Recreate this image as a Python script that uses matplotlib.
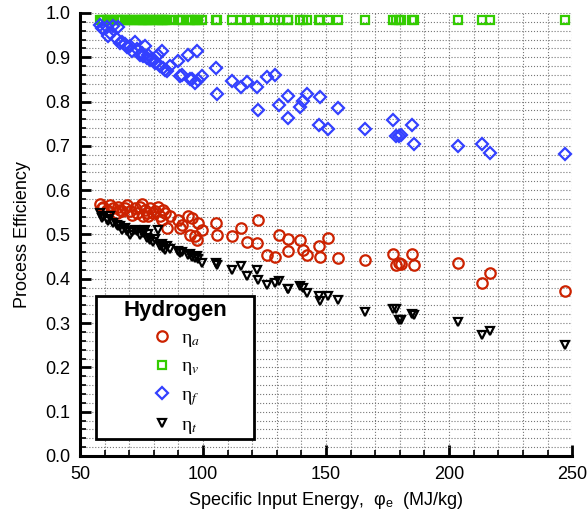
import matplotlib.pyplot as plt
from matplotlib.patches import Rectangle
from matplotlib.ticker import MultipleLocator

# specific input energy (MJ/kg) for each run
energy = [58.1, 58.8, 59.5, 60.9, 61.5, 62.2, 63.5, 64.9, 65.6, 66.3,
          66.9, 68.3, 69.0, 70.3, 71.0, 72.4, 73.3, 74.4, 75.1, 75.8,
          76.4, 77.1, 77.8, 78.5, 79.8, 80.5, 81.8, 82.5, 83.2, 83.9,
          84.6, 85.2, 86.6, 90.0, 90.6, 91.3, 94.0, 94.7, 95.4, 96.7,
          97.4, 98.0, 99.5, 105.2, 105.8, 111.9, 115.3, 118.0, 121.8, 122.5,
          125.9, 129.3, 130.9, 134.4, 134.6, 139.4, 140.5, 142.4, 147.3, 147.6,
          150.7, 155.0, 165.9, 177.4, 178.5, 179.5, 180.5, 184.8, 185.6, 203.8,
          213.3, 216.7, 247.2]

eta_a = [0.569, 0.560, 0.563, 0.556, 0.552, 0.567, 0.560, 0.548, 0.563, 0.556,
         0.552, 0.560, 0.567, 0.552, 0.545, 0.560, 0.548, 0.563, 0.569, 0.541,
         0.556, 0.548, 0.541, 0.560, 0.548, 0.552, 0.563, 0.541, 0.533, 0.556,
         0.548, 0.514, 0.541, 0.533, 0.514, 0.522, 0.541, 0.499, 0.537, 0.496,
         0.488, 0.526, 0.511, 0.526, 0.499, 0.496, 0.515, 0.484, 0.481, 0.533,
         0.454, 0.449, 0.498, 0.490, 0.463, 0.487, 0.466, 0.453, 0.475, 0.448,
         0.493, 0.447, 0.443, 0.456, 0.430, 0.436, 0.433, 0.456, 0.430, 0.435,
         0.390, 0.413, 0.373]

eta_v = [0.985, 0.985, 0.985, 0.985, 0.985, 0.985, 0.985, 0.985, 0.985, 0.985,
         0.985, 0.985, 0.985, 0.985, 0.985, 0.985, 0.985, 0.985, 0.985, 0.985,
         0.985, 0.985, 0.985, 0.985, 0.985, 0.985, 0.985, 0.985, 0.985, 0.985,
         0.985, 0.985, 0.985, 0.985, 0.985, 0.985, 0.985, 0.985, 0.985, 0.985,
         0.985, 0.985, 0.985, 0.984, 0.984, 0.984, 0.984, 0.984, 0.984, 0.984,
         0.984, 0.984, 0.984, 0.984, 0.984, 0.984, 0.984, 0.984, 0.984, 0.984,
         0.984, 0.984, 0.984, 0.984, 0.984, 0.984, 0.984, 0.984, 0.984, 0.984,
         0.984, 0.984, 0.984]

eta_f = [0.972, 0.965, 0.963, 0.968, 0.948, 0.955, 0.970, 0.941, 0.969, 0.933,
         0.935, 0.929, 0.922, 0.925, 0.914, 0.935, 0.918, 0.906, 0.910, 0.902,
         0.925, 0.899, 0.905, 0.893, 0.895, 0.887, 0.905, 0.880, 0.914, 0.876,
         0.872, 0.870, 0.880, 0.891, 0.857, 0.860, 0.906, 0.850, 0.850, 0.842,
         0.914, 0.848, 0.857, 0.875, 0.816, 0.847, 0.833, 0.844, 0.832, 0.780,
         0.856, 0.859, 0.792, 0.812, 0.763, 0.788, 0.802, 0.816, 0.746, 0.810,
         0.738, 0.786, 0.739, 0.759, 0.722, 0.722, 0.725, 0.746, 0.705, 0.700,
         0.705, 0.684, 0.682]

eta_t = [0.548, 0.537, 0.541, 0.535, 0.530, 0.541, 0.526, 0.522, 0.520, 0.518,
         0.511, 0.515, 0.507, 0.499, 0.505, 0.511, 0.507, 0.499, 0.505, 0.503,
         0.511, 0.492, 0.500, 0.488, 0.484, 0.490, 0.511, 0.475, 0.478, 0.470,
         0.466, 0.473, 0.468, 0.462, 0.458, 0.460, 0.454, 0.456, 0.450, 0.447,
         0.452, 0.445, 0.435, 0.435, 0.432, 0.420, 0.428, 0.407, 0.419, 0.398,
         0.386, 0.390, 0.394, 0.377, 0.377, 0.383, 0.380, 0.369, 0.360, 0.349,
         0.362, 0.351, 0.325, 0.331, 0.331, 0.308, 0.308, 0.320, 0.318, 0.302,
         0.272, 0.281, 0.251]

plt.rcParams['font.family'] = ['Liberation Sans', 'DejaVu Sans']
plt.rcParams['mathtext.fontset'] = 'stix'

fig = plt.figure(figsize=(5.88, 5.17), dpi=100)
ax = fig.add_axes([0.136, 0.118, 0.837, 0.857])

series = [
    (eta_a, 'o', '#cc2200', 7.5, 'η$_{a}$'),
    (eta_v, 's', '#33cc00', 5.8, 'η$_{v}$'),
    (eta_f, 'D', '#3340ff', 6.3, 'η$_{f}$'),
    (eta_t, 'v', 'black', 6.0, 'η$_{t}$'),
]
for vals, mk, col, ms, lab in series:
    ax.plot(energy, vals, linestyle='none', marker=mk, markersize=ms,
            markerfacecolor='none', markeredgecolor=col, markeredgewidth=1.6,
            label=lab, zorder=3)

ax.set_xlim(50, 250)
ax.set_ylim(0, 1.0)
ax.xaxis.set_major_locator(MultipleLocator(50))
ax.xaxis.set_minor_locator(MultipleLocator(10))
ax.yaxis.set_major_locator(MultipleLocator(0.1))
ax.yaxis.set_minor_locator(MultipleLocator(0.02))
ax.yaxis.set_major_formatter(lambda v, p: f'{v:.1f}')
ax.grid(True, which='both', linestyle=':', color='#777777', linewidth=0.8)
ax.set_axisbelow(True)

for s in ('top', 'right'):
    ax.spines[s].set_visible(False)
for s in ('left', 'bottom'):
    ax.spines[s].set_linewidth(2.2)

ax.tick_params(which='major', direction='in', length=8, width=2, labelsize=13, pad=7)
ax.tick_params(which='minor', direction='in', length=4, width=1.2)

ax.set_xlabel('Specific Input Energy,  φ$_\\mathregular{e}$  (MJ/kg)', fontsize=13, labelpad=5)
ax.set_ylabel('Process Efficiency', fontsize=13, labelpad=10)

# legend box
box = Rectangle((0.0325, 0.038), 0.321, 0.322, transform=ax.transAxes,
                facecolor='white', edgecolor='black', linewidth=2, zorder=5)
ax.add_patch(box)
leg = ax.legend(loc='center', bbox_to_anchor=(0.0325 + 0.1605, 0.038 + 0.161),
                frameon=False, title='Hydrogen',
                handletextpad=0.4, labelspacing=0.45, handlelength=1.2,
                prop={'family': ['Liberation Serif'], 'size': 14})
leg.get_title().set_fontweight('bold')
leg.get_title().set_fontsize(16)
leg.set_zorder(6)

fig.savefig('out.png', dpi=100)
